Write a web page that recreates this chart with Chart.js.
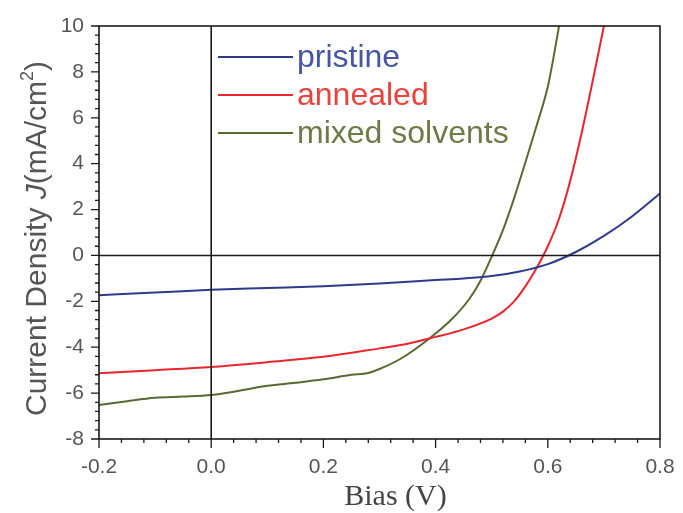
<!DOCTYPE html>
<html>
<head>
<meta charset="utf-8">
<script src="https://cdn.jsdelivr.net/npm/chart.js@4"></script>
<style>
  html, body { margin: 0; padding: 0; background: #fff; }
  #wrap { width: 683px; height: 513px; }
</style>
</head>
<body>
<div id="wrap"><canvas id="c" width="683" height="513"></canvas></div>
<script>
// values
const biasPristine = [-0.2, -0.1, 0.0, 0.1, 0.2, 0.3, 0.4, 0.45, 0.5, 0.55, 0.6, 0.65, 0.7, 0.75, 0.8];
const jPristine = [-1.73, -1.62, -1.5, -1.42, -1.34, -1.22, -1.07, -1.0, -0.9, -0.7, -0.38, 0.15, 0.85, 1.7, 2.7];

const biasAnnealed = [-0.2, -0.1, 0.0, 0.1, 0.2, 0.3, 0.35, 0.4, 0.45, 0.5, 0.52, 0.54, 0.56, 0.58, 0.6, 0.62, 0.64, 0.66, 0.68, 0.7];
const jAnnealed = [-5.13, -5.0, -4.86, -4.65, -4.42, -4.05, -3.85, -3.55, -3.22, -2.75, -2.45, -2.0, -1.35, -0.55, 0.4, 1.6, 3.25, 5.3, 7.6, 10];

const biasMixed = [-0.2, -0.15, -0.1, -0.05, 0.0, 0.05, 0.1, 0.15, 0.2, 0.25, 0.28, 0.3, 0.34, 0.39, 0.43, 0.46, 0.48, 0.5, 0.52, 0.54, 0.56, 0.58, 0.6, 0.61, 0.62];
const jMixed = [-6.52, -6.35, -6.2, -6.15, -6.08, -5.9, -5.68, -5.55, -5.4, -5.2, -5.12, -4.95, -4.47, -3.6, -2.75, -1.9, -1.1, -0.05, 1.1, 2.5, 4.05, 5.65, 7.35, 8.6, 10];

const seriesNames = ['pristine', 'annealed', 'mixed solvents'];
const lineColors = ['#2e3a8c', '#e8262e', '#586a30'];
const textColors = ['#4556a8', '#e8433c', '#6e7a48'];

const xTicks = [-0.2, 0.0, 0.2, 0.4, 0.6, 0.8];
const yTicks = [-8, -6, -4, -2, 0, 2, 4, 6, 8, 10];

const toPts = (xs, ys) => xs.map((x, i) => ({ x: x, y: ys[i] }));
const SANS = '"Liberation Sans", Arial, sans-serif';

// frame, zero lines, tick marks, legend and axis titles
const decor = {
  id: 'decor',
  afterDatasetsDraw(chart) {
    const ctx = chart.ctx;
    const a = chart.chartArea;
    const xs = chart.scales.x, ys = chart.scales.y;
    ctx.save();
    ctx.strokeStyle = '#1a1a1a';
    ctx.lineWidth = 1.6;
    ctx.strokeRect(a.left, a.top, a.right - a.left, a.bottom - a.top);
    // zero lines
    const y0 = ys.getPixelForValue(0), x0 = xs.getPixelForValue(0);
    ctx.beginPath();
    ctx.moveTo(a.left, y0); ctx.lineTo(a.right, y0);
    ctx.moveTo(x0, a.top); ctx.lineTo(x0, a.bottom);
    ctx.stroke();
    // tick marks (outward)
    ctx.lineWidth = 1.3;
    ctx.beginPath();
    for (let v = -0.2; v <= 0.8001; v += 0.04) {
      const px = xs.getPixelForValue(v);
      const major = Math.abs(Math.round(v / 0.2) * 0.2 - v) < 1e-6;
      ctx.moveTo(px, a.bottom); ctx.lineTo(px, a.bottom + (major ? 9 : 4));
    }
    for (let v = -8; v <= 10.001; v += 0.4) {
      const py = ys.getPixelForValue(v);
      const major = Math.abs(Math.round(v / 2) * 2 - v) < 1e-6;
      ctx.moveTo(a.left, py); ctx.lineTo(a.left - (major ? 8 : 4), py);
    }
    ctx.stroke();

    // legend
    ctx.font = '32px ' + SANS;
    ctx.textBaseline = 'alphabetic';
    ctx.textAlign = 'left';
    chart.data.datasets.forEach((ds, i) => {
      const y = a.top + 31 + i * 38;
      ctx.strokeStyle = ds.borderColor;
      ctx.lineWidth = 2.2;
      ctx.beginPath();
      ctx.moveTo(a.left + 119, y); ctx.lineTo(a.left + 194, y);
      ctx.stroke();
      ctx.fillStyle = textColors[i];
      ctx.fillText(ds.label, a.left + 198, y + 10);
    });

    // x axis title
    ctx.fillStyle = '#444';
    ctx.textAlign = 'center';
    ctx.font = '30px "Liberation Serif", "Times New Roman", serif';
    ctx.fillText('Bias (V)', (a.left + a.right) / 2 + 16, 505);

    // y axis title with italic J and superscript
    ctx.textAlign = 'left';
    ctx.translate(46, (a.top + a.bottom) / 2 + 6);
    ctx.rotate(-Math.PI / 2);
    ctx.fillStyle = '#555';
    const parts = [
      ['Current Density ', '30px ' + SANS, 0],
      ['J', 'italic 30px ' + SANS, 0],
      ['(mA/cm', '30px ' + SANS, 0],
      ['2', '18px ' + SANS, -13],
      [')', '30px ' + SANS, 0]
    ];
    let total = 0;
    parts.forEach(p => { ctx.font = p[1]; total += ctx.measureText(p[0]).width; });
    let cx = -total / 2;
    parts.forEach(p => {
      ctx.font = p[1];
      ctx.fillText(p[0], cx, p[2]);
      cx += ctx.measureText(p[0]).width;
    });
    ctx.restore();
  }
};

new Chart(document.getElementById('c'), {
  type: 'scatter',
  data: {
    datasets: [
      { label: seriesNames[0], data: toPts(biasPristine, jPristine) },
      { label: seriesNames[1], data: toPts(biasAnnealed, jAnnealed) },
      { label: seriesNames[2], data: toPts(biasMixed, jMixed) }
    ].map((d, i) => Object.assign(d, {
      showLine: true,
      borderColor: lineColors[i],
      backgroundColor: lineColors[i],
      borderWidth: 2,
      pointRadius: 0,
      cubicInterpolationMode: 'monotone'
    }))
  },
  options: {
    responsive: false,
    animation: false,
    layout: { padding: { top: 26, right: 23, left: 0, bottom: 0 } },
    plugins: { legend: { display: false }, tooltip: { enabled: false } },
    scales: {
      x: {
        type: 'linear',
        min: -0.2, max: 0.8,
        afterBuildTicks: s => { s.ticks = xTicks.map(v => ({ value: v })); },
        afterFit: s => { s.height = 74; s.paddingLeft = 0; s.paddingRight = 0; },
        grid: { display: false, drawTicks: false },
        border: { display: false },
        ticks: {
          padding: 16,
          color: '#555',
          font: { family: SANS, size: 21 },
          callback: v => v.toFixed(1)
        }
      },
      y: {
        type: 'linear',
        min: -8, max: 10,
        afterBuildTicks: s => { s.ticks = yTicks.map(v => ({ value: v })); },
        afterFit: s => { s.width = 99; s.paddingTop = 0; s.paddingBottom = 0; },
        grid: { display: false, drawTicks: false },
        border: { display: false },
        ticks: {
          padding: 15,
          color: '#555',
          font: { family: SANS, size: 21 }
        }
      }
    }
  },
  plugins: [decor]
});
</script>
</body>
</html>
